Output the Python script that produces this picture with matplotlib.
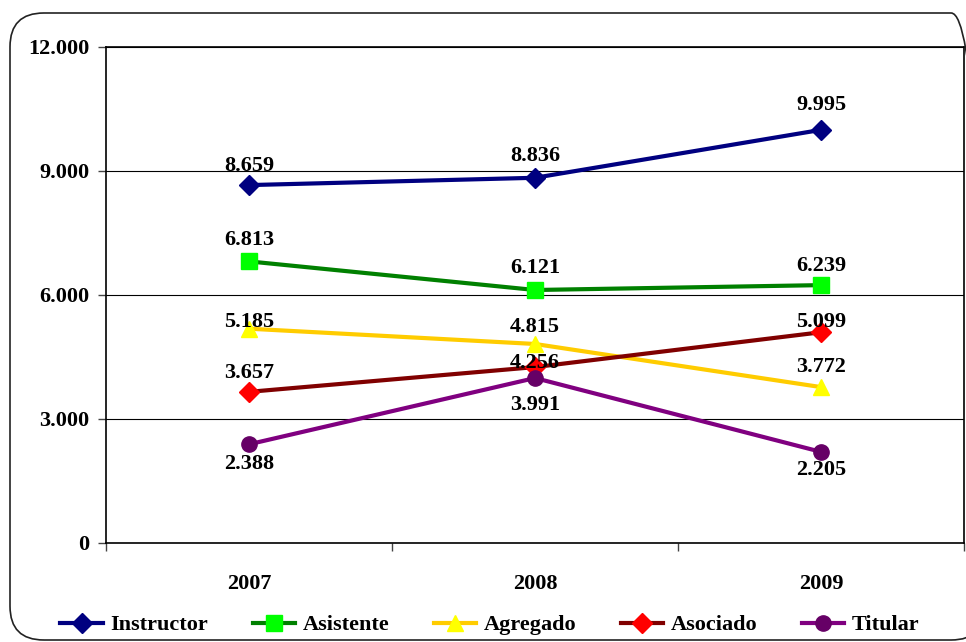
import matplotlib.pyplot as plt
import numpy as np
from matplotlib.patches import FancyBboxPatch

plt.rcParams['font.family'] = ['Liberation Serif', 'DejaVu Serif']
plt.rcParams['font.weight'] = 'bold'

years = ['2007', '2008', '2009']
instructor = [8659, 8836, 9995]
asistente = [6813, 6121, 6239]
agregado = [5185, 4815, 3772]
asociado = [3657, 4256, 5099]
titular = [2388, 3991, 2205]

# name, values, line colour, marker, marker colour
series = [
    ('Instructor', instructor, '#000080', 'D', '#000080'),
    ('Asistente', asistente, '#008000', 's', '#00FF00'),
    ('Agregado', agregado, '#FFCC00', '^', '#FFFF00'),
    ('Asociado', asociado, '#800000', 'D', '#FF0000'),
    ('Titular', titular, '#800080', 'o', '#660066'),
]
# vertical label shift in pixels (positive = above the point)
label_shift = {
    'Instructor': [19, 22, 25],
    'Asistente': [21, 22, 19],
    'Agregado': [7, 17, 20],
    'Asociado': [19, 4, 10],
    'Titular': [-20, -27, -18],
}

W, H = 966, 642
fig = plt.figure(figsize=(W / 100, H / 100), dpi=100)

# rounded frame around the chart
box = FancyBboxPatch((10 / W, 2 / H), 975 / W, 627 / H,
                     boxstyle='round,pad=0,rounding_size=0.035',
                     transform=fig.transFigure, fill=False,
                     edgecolor='#222222', linewidth=1.2, mutation_aspect=W / H)
fig.patches.append(box)

ax = fig.add_axes([106 / W, (H - 543) / H, (964 - 106) / W, (543 - 47) / H])
x = np.arange(len(years))

for name, vals, lc, mk, mc in series:
    ax.plot(x, vals, color=lc, lw=3, marker=mk, markersize=11 if mk != 'D' else 10,
            markerfacecolor=mc, markeredgecolor=mc, label=name, zorder=3)
    for xi, v, dy in zip(x, vals, label_shift[name]):
        ax.annotate(f'{v:,}'.replace(',', '.'), (xi, v),
                    xytext=(0, dy * 0.72), textcoords='offset points',
                    ha='center', va='center', fontsize=16, fontweight='bold',
                    zorder=4)

ax.set_xlim(-0.5, 2.5)
ax.set_ylim(0, 12000)
ax.set_yticks([0, 3000, 6000, 9000, 12000])
ax.set_yticklabels(['0', '3.000', '6.000', '9.000', '12.000'])
ax.set_xticks(x)
ax.set_xticklabels(years)
ax.set_xticks([-0.5, 0.5, 1.5, 2.5], minor=True)
ax.tick_params(axis='x', which='major', length=0, pad=22, labelsize=16)
ax.tick_params(axis='x', which='minor', length=6, width=1, color='#444444')
ax.tick_params(axis='y', length=6, width=1, color='#444444', labelsize=16, pad=6)
ax.grid(axis='y', color='black', lw=0.8)
for s in ax.spines.values():
    s.set_linewidth(1.2)

fig.legend(loc='center', bbox_to_anchor=(490 / W, 1 - 625 / H), ncol=5,
           frameon=False, handlelength=1.9, handletextpad=0.35,
           columnspacing=2.0, borderpad=0, prop={'weight': 'bold', 'size': 16})

fig.savefig('out.png', dpi=100)
